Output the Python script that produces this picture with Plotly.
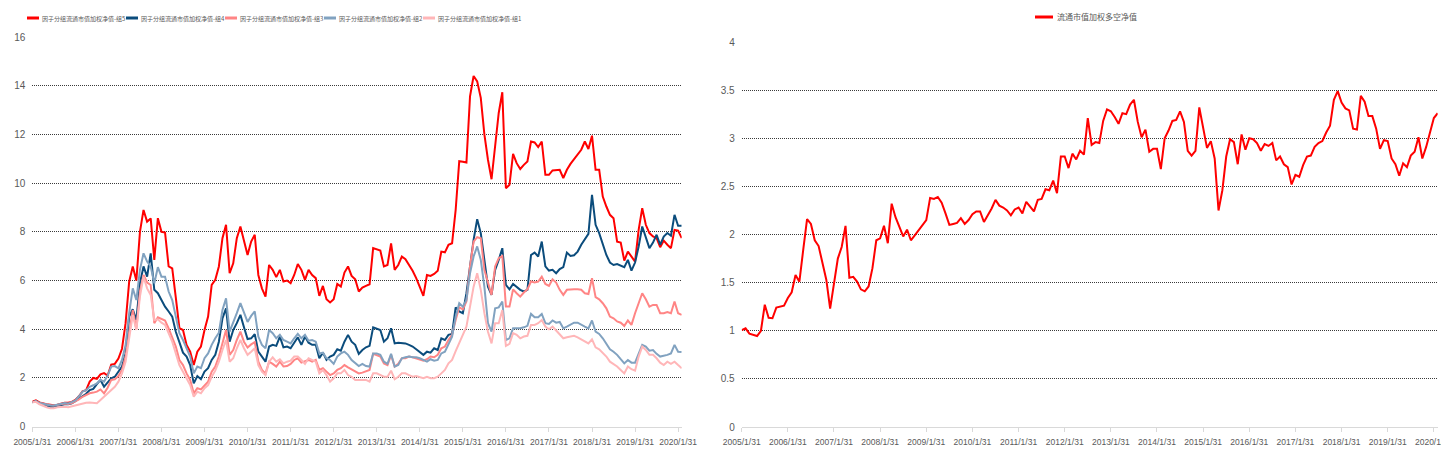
import plotly.graph_objects as go

# ---------------- data (monthly, 2005/1/31 ... 2020/2) ----------------
MONTH_INDEX = list(range(182))

TICK_POS = [0, 12, 24, 36, 48, 60, 72, 84, 96, 108, 120, 132, 144, 156, 168, 180]
TICK_LABELS = ["2005/1/31", "2006/1/31", "2007/1/31", "2008/1/31", "2009/1/31",
               "2010/1/31", "2011/1/31", "2012/1/31", "2013/1/31", "2014/1/31",
               "2015/1/31", "2016/1/31", "2017/1/31", "2018/1/31", "2019/1/31",
               "2020/1/31"]

NAMES = ["因子分组流通市值加权净值-组5", "因子分组流通市值加权净值-组4",
         "因子分组流通市值加权净值-组3", "因子分组流通市值加权净值-组2",
         "因子分组流通市值加权净值-组1"]
LS_NAME = "流通市值加权多空净值"

G5 = [1.03,1.08,1.00,0.95,0.92,0.90,0.88,0.90,0.95,0.98,
      0.98,1.02,1.10,1.25,1.45,1.50,1.85,2.00,1.96,2.15,
      2.20,2.10,2.55,2.58,2.80,3.20,4.25,5.95,6.58,6.00,
      8.00,8.90,8.42,8.55,6.85,8.56,8.00,7.97,6.58,6.50,
      5.30,4.05,3.97,3.36,3.08,2.53,3.08,3.29,3.97,4.52,
      5.82,6.03,6.58,7.74,8.29,6.30,6.71,7.74,8.22,7.67,
      7.05,7.60,7.88,6.23,5.68,5.34,6.64,6.44,6.14,6.44,
      5.96,6.00,5.89,6.23,6.68,6.44,6.03,6.44,6.23,6.10,
      5.37,5.78,5.23,5.10,5.23,5.86,5.75,6.33,6.58,6.19,
      6.05,5.55,5.71,5.78,5.85,7.33,7.29,7.23,6.58,6.64,
      7.53,6.44,6.64,6.99,6.88,6.64,6.40,6.10,5.75,5.37,
      6.23,6.19,6.27,6.40,7.19,7.16,7.47,7.53,8.90,10.90,
      10.88,10.85,13.56,14.40,14.18,13.50,12.00,10.96,10.16,11.58,
      12.88,13.73,9.79,9.93,11.20,10.82,10.58,10.75,10.89,11.71,
      11.67,11.48,11.71,10.34,10.34,10.52,10.55,10.55,10.21,10.55,
      10.79,10.99,11.16,11.37,11.71,11.40,11.95,10.55,10.55,9.45,
      9.04,8.70,8.56,7.60,7.56,6.82,7.19,6.99,6.78,8.08,
      8.97,8.29,7.95,7.81,7.74,7.37,7.64,7.47,7.33,8.08,
      8.05,7.74]

G4 = [1.00,1.05,0.95,0.90,0.85,0.82,0.82,0.85,0.90,0.92,
      0.92,0.96,1.05,1.15,1.25,1.35,1.50,1.55,1.75,1.92,
      1.64,1.80,1.99,2.05,2.26,2.47,3.01,4.52,4.82,4.38,
      5.89,6.58,6.16,7.12,5.62,5.48,5.20,4.93,4.73,4.52,
      3.90,3.42,3.04,2.88,2.53,1.78,2.08,1.95,2.26,2.40,
      2.74,2.95,3.49,4.45,4.86,3.49,3.97,4.25,4.59,4.08,
      3.60,3.63,3.80,3.08,2.88,2.67,3.29,3.36,3.32,3.70,
      3.26,3.29,3.22,3.45,3.67,3.36,3.70,3.45,3.36,3.36,
      2.81,3.04,2.74,2.88,2.95,3.18,3.12,3.49,3.77,3.49,
      3.36,2.99,3.15,3.26,3.32,4.08,4.04,3.97,3.49,3.63,
      4.04,3.42,3.45,3.45,3.42,3.36,3.29,3.18,3.08,2.95,
      3.08,3.04,3.22,3.15,3.63,3.56,3.77,3.81,4.90,4.73,
      4.66,5.48,6.58,7.67,8.52,7.95,6.85,5.75,5.41,6.44,
      6.85,7.33,5.82,5.64,5.86,5.75,5.62,5.55,5.62,7.05,
      7.15,6.99,7.60,6.58,6.41,6.44,6.30,6.47,6.55,7.15,
      7.01,7.04,7.19,7.47,7.67,7.92,9.52,8.29,7.95,7.53,
      7.05,6.74,6.64,6.68,6.60,6.55,6.85,6.41,6.74,7.40,
      8.22,7.81,7.33,7.56,7.88,7.47,7.81,7.95,7.84,8.70,
      8.25,8.25]

G3 = [1.00,1.03,0.97,0.93,0.90,0.88,0.87,0.88,0.92,0.95,
      0.93,0.97,1.03,1.12,1.23,1.30,1.37,1.40,1.44,1.53,
      1.37,1.60,1.92,1.95,2.08,2.33,2.88,3.84,4.79,4.00,
      5.55,6.23,5.92,5.82,4.25,4.49,4.41,4.36,4.04,3.70,
      3.29,2.74,2.53,2.19,1.92,1.37,1.58,1.53,1.71,1.85,
      2.26,2.47,2.88,3.49,3.97,2.95,3.15,3.56,3.90,3.49,
      3.25,3.38,3.47,2.67,2.33,2.19,2.67,2.58,2.47,2.67,
      2.47,2.49,2.58,2.74,2.81,2.63,2.67,2.74,2.67,2.74,
      2.33,2.40,2.26,2.12,2.19,2.33,2.40,2.53,2.44,2.36,
      2.26,2.19,2.22,2.26,2.33,2.99,2.95,2.88,2.60,2.53,
      2.95,2.47,2.58,2.81,2.81,2.88,2.85,2.81,2.74,2.71,
      2.77,2.88,2.85,2.95,3.22,3.29,3.56,3.77,4.38,4.90,
      4.82,5.14,6.58,7.60,7.78,7.74,6.44,5.89,5.41,6.58,
      6.92,7.01,4.93,4.93,5.64,5.48,5.34,5.51,5.64,5.96,
      5.92,5.96,6.16,5.86,5.78,6.05,5.92,5.62,5.41,5.62,
      5.64,5.64,5.64,5.62,5.48,5.45,6.10,5.32,5.23,5.07,
      4.86,4.52,4.45,4.32,4.27,4.14,4.36,4.18,4.66,5.07,
      5.48,5.23,4.93,5.00,5.00,4.66,4.66,4.71,4.66,5.14,
      4.66,4.59]

G2 = [1.00,1.05,0.97,0.93,0.90,0.88,0.87,0.90,0.95,0.97,
      0.95,1.00,1.08,1.25,1.44,1.50,1.64,1.70,1.78,1.92,
      1.85,2.10,2.47,2.49,2.40,2.74,3.36,4.66,5.68,5.20,
      6.44,7.12,6.78,6.58,5.89,6.55,6.16,6.16,5.55,5.20,
      4.52,3.84,3.56,3.22,2.88,2.19,2.47,2.40,2.81,3.01,
      3.36,3.63,3.86,4.79,5.27,3.90,4.25,4.66,5.07,4.66,
      4.30,4.55,4.73,3.70,3.36,3.22,3.97,3.84,3.63,3.77,
      3.56,3.49,3.42,3.63,3.81,3.63,3.77,3.53,3.56,3.49,
      3.01,3.04,2.81,2.74,2.58,2.88,3.01,3.08,2.95,2.74,
      2.60,2.49,2.58,2.49,2.47,3.01,3.01,2.95,2.67,2.58,
      2.99,2.47,2.53,2.81,2.85,2.88,2.85,2.85,2.81,2.74,
      2.67,2.77,2.71,2.74,3.01,3.08,3.36,3.70,4.52,5.07,
      4.93,5.20,6.30,6.99,7.40,6.85,5.75,4.25,3.90,4.86,
      4.90,5.14,3.56,3.63,4.04,4.04,4.04,4.08,4.14,4.63,
      4.49,4.49,4.63,4.25,4.22,4.36,4.27,4.30,4.04,4.11,
      4.18,4.27,4.27,4.18,4.11,4.04,4.36,3.90,3.81,3.63,
      3.42,3.18,3.08,2.95,2.77,2.60,2.74,2.63,2.63,3.01,
      3.36,3.29,3.12,3.15,2.99,2.88,2.90,2.95,3.01,3.36,
      3.08,3.07]

G1 = [1.00,1.02,0.92,0.85,0.80,0.76,0.76,0.80,0.82,0.82,
      0.80,0.84,0.89,0.92,0.96,0.98,0.99,0.98,0.96,1.10,
      1.23,1.40,1.53,1.64,1.85,2.19,2.67,3.56,4.59,3.97,
      5.34,6.16,5.68,5.41,4.38,4.41,4.27,4.18,3.84,3.49,
      3.01,2.53,2.26,1.99,1.71,1.23,1.44,1.37,1.58,1.71,
      2.05,2.30,2.67,3.15,3.56,2.67,2.81,3.22,3.56,3.22,
      2.95,3.08,3.22,2.53,2.26,2.12,2.67,2.85,2.67,2.77,
      2.60,2.67,2.71,2.88,2.88,2.74,2.58,2.81,2.74,2.67,
      2.19,2.33,2.12,1.85,1.99,2.19,2.19,2.33,2.12,2.05,
      1.92,1.92,1.95,1.92,1.85,2.19,2.19,2.12,2.05,2.05,
      2.30,1.95,2.05,2.19,2.19,2.12,2.05,2.08,2.05,1.99,
      2.05,1.99,1.99,2.05,2.19,2.33,2.60,2.74,3.10,3.42,
      3.80,4.11,4.93,5.75,6.30,5.62,4.66,3.90,3.42,4.25,
      4.25,4.79,3.32,3.40,3.84,3.77,3.63,3.70,3.73,4.18,
      4.18,4.25,4.38,4.11,4.00,4.11,3.95,3.81,3.63,3.67,
      3.70,3.73,3.67,3.59,3.49,3.42,3.59,3.26,3.18,3.04,
      2.88,2.67,2.58,2.47,2.33,2.19,2.47,2.36,2.30,2.88,
      3.29,3.15,2.95,2.95,2.81,2.63,2.53,2.67,2.58,2.67,
      2.53,2.40]

LS = [1.007,1.025,0.97,0.96,0.945,1.00,1.27,1.135,1.13,1.24,
      1.25,1.26,1.34,1.40,1.58,1.51,1.84,2.16,2.11,1.94,
      1.88,1.72,1.53,1.23,1.47,1.75,1.87,2.09,1.55,1.56,
      1.51,1.43,1.41,1.46,1.65,1.94,1.96,2.09,1.91,2.32,
      2.18,2.07,1.98,2.05,1.94,1.99,2.04,2.09,2.15,2.38,
      2.37,2.39,2.33,2.22,2.10,2.11,2.12,2.17,2.11,2.15,
      2.21,2.24,2.24,2.13,2.20,2.27,2.36,2.30,2.28,2.25,
      2.20,2.26,2.28,2.22,2.34,2.29,2.24,2.36,2.37,2.47,
      2.46,2.56,2.43,2.81,2.81,2.69,2.84,2.78,2.87,2.83,
      3.21,2.93,2.96,2.95,3.18,3.30,3.28,3.22,3.15,3.26,
      3.25,3.35,3.40,3.17,3.01,3.09,2.86,2.89,2.89,2.68,
      3.00,3.08,3.18,3.19,3.28,3.17,2.87,2.82,2.87,3.32,
      3.12,2.90,2.97,2.79,2.25,2.46,2.81,2.99,2.96,2.73,
      3.04,2.88,3.00,2.99,2.95,2.87,2.94,2.92,2.95,2.77,
      2.81,2.73,2.70,2.52,2.62,2.60,2.72,2.81,2.82,2.91,
      2.95,2.97,3.06,3.13,3.40,3.49,3.37,3.31,3.29,3.10,
      3.09,3.44,3.38,3.23,3.23,3.10,2.89,2.98,2.97,2.79,
      2.73,2.61,2.74,2.70,2.82,2.86,3.01,2.79,2.91,3.05,
      3.21,3.26]

LEFT_YTICKS = [0, 2, 4, 6, 8, 10, 12, 14, 16]
RIGHT_YTICKS = [0, 0.5, 1, 1.5, 2, 2.5, 3, 3.5, 4]
RIGHT_YTICK_TEXT = ["0", "0.5", "1", "1.5", "2", "2.5", "3", "3.5", "4"]

# ---------------- styling ----------------
COLORS = ["#FF0000", "#0B4C7C", "#FF8585", "#81A2C0", "#FFB6B8"]
LS_COLOR = "#FF0000"
TEXT_COLOR = "#595959"
NUM_FONT = "Liberation Sans, Arial, sans-serif"
CJK_FONT = "Noto Sans CJK SC, sans-serif"

# the page body has an 8px default margin; the figure fills the rest of the window
OFF = 8
W, H = 1449 - OFF, 456 - OFF


def px(x):
    return (x - OFF) / W


def py(y):
    return 1 - (y - OFF) / H


fig = go.Figure()
for name, vals, col in zip(NAMES, [G5, G4, G3, G2, G1], COLORS):
    fig.add_trace(go.Scatter(x=MONTH_INDEX, y=vals, name=name, mode="lines",
                             line=dict(color=col, width=2), xaxis="x", yaxis="y",
                             showlegend=False))
fig.add_trace(go.Scatter(x=MONTH_INDEX, y=LS, name=LS_NAME, mode="lines",
                         line=dict(color=LS_COLOR, width=2), xaxis="x2", yaxis="y2",
                         showlegend=False))

common_x = dict(range=[0, 181], tickmode="array", tickvals=TICK_POS, ticktext=TICK_LABELS,
                showgrid=False, zeroline=False, showline=True, linecolor="#D9D9D9",
                linewidth=1, ticks="outside", ticklen=4, tickcolor="#D9D9D9",
                tickangle=0, automargin=False, ticklabeloverflow="allow",
                tickfont=dict(family=NUM_FONT, size=8.5, color=TEXT_COLOR),
                ticklabelstandoff=3)
common_y = dict(showgrid=True, gridcolor="#3A3A3A", griddash="1px,1px", gridwidth=1,
                zeroline=False, showline=False, ticks="", automargin=False,
                tickfont=dict(family=NUM_FONT, size=10, color=TEXT_COLOR),
                ticklabelstandoff=6)

# legend keys (layout text + short line swatches, as in the original)
LEG_Y = py(18)
LEG_STEP = 99
shapes = []
annotations = []
for i, (name, col) in enumerate(zip(NAMES, COLORS)):
    x0 = 27 + i * LEG_STEP
    shapes.append(dict(type="line", xref="paper", yref="paper",
                       x0=px(x0), x1=px(x0 + 12), y0=LEG_Y, y1=LEG_Y,
                       line=dict(color=col, width=3)))
    annotations.append(dict(xref="paper", yref="paper", x=px(x0 + 13), y=LEG_Y,
                            xanchor="left", yanchor="middle", showarrow=False,
                            text=name, font=dict(family=CJK_FONT, size=6, color=TEXT_COLOR)))
LEG2_Y = py(17)
shapes.append(dict(type="line", xref="paper", yref="paper",
                   x0=px(1035), x1=px(1053), y0=LEG2_Y, y1=LEG2_Y,
                   line=dict(color=LS_COLOR, width=3)))
annotations.append(dict(xref="paper", yref="paper", x=px(1055), y=LEG2_Y,
                        xanchor="left", yanchor="middle", showarrow=False,
                        text=LS_NAME, font=dict(family=CJK_FONT, size=8, color=TEXT_COLOR)))

fig.update_layout(
    width=W, height=H, autosize=False,
    margin=dict(l=0, r=0, t=0, b=0, pad=0, autoexpand=False),
    paper_bgcolor="white", plot_bgcolor="white",
    xaxis=dict(domain=[px(32.3), px(681.7)], anchor="y", **common_x),
    yaxis=dict(domain=[py(426.7), py(37)], anchor="x", range=[0, 16],
               tickmode="array", tickvals=LEFT_YTICKS, **common_y),
    xaxis2=dict(domain=[px(741.7), px(1437.7)], anchor="y2", **common_x),
    yaxis2=dict(domain=[py(427), py(42)], anchor="x2", range=[0, 4],
                tickmode="array", tickvals=RIGHT_YTICKS, ticktext=RIGHT_YTICK_TEXT,
                **common_y),
    shapes=shapes,
    annotations=annotations,
    showlegend=False,
)

fig.write_html("out.html")
